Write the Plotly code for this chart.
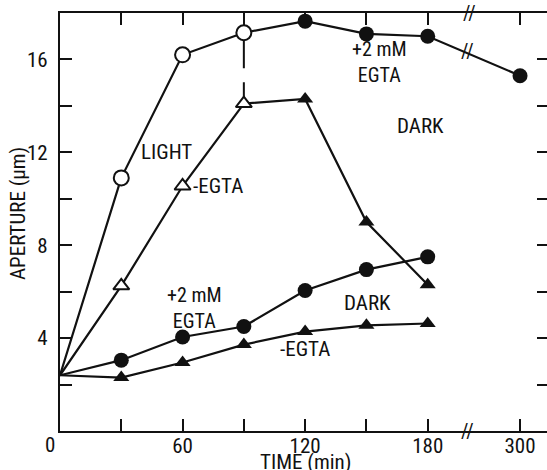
import plotly.graph_objects as go

# ---------------- data ----------------
time_light = [0, 30, 60, 90]
light_egta = [2.4, 10.9, 16.2, 17.15]           # open circles (light, +2 mM EGTA)
time_dark_after = [90, 120, 150, 180, 300]
dark_after_egta = [17.15, 17.65, 17.1, 17.0, 15.3]  # filled circles (dark after light, +EGTA)

light_noegta = [2.4, 6.25, 10.55, 14.1]         # open triangles (light, -EGTA)
time_dark_after2 = [90, 120, 150, 180]
dark_after_noegta = [14.1, 14.3, 9.0, 6.3]      # filled triangles

time_dark = [0, 30, 60, 90, 120, 150, 180]
dark_egta = [2.4, 3.05, 4.05, 4.5, 6.05, 6.95, 7.5]
dark_noegta = [2.4, 2.3, 2.95, 3.72, 4.28, 4.55, 4.63]

x_tickvals_t = [0, 30, 60, 90, 120, 150, 180, 300]
x_ticklabels = ["", "", "60", "", "120", "", "180", "300"]
y_tickvals = [2, 4, 6, 8, 10, 12, 14, 16]
y_ticklabels = ["", "4", "", "8", "", "12", "", "16"]

# break of the time axis after 180 min
BREAK_T = 180
BREAK_SCALE = 45.2 / 120.0


def tpos(t):
    return t if t <= BREAK_T else BREAK_T + (t - BREAK_T) * BREAK_SCALE


def P(ts):
    return [tpos(t) for t in ts]


FONT = "Liberation Sans Narrow, Arial Narrow, Roboto Condensed, Liberation Sans, Arial, sans-serif"
BLACK = "#111111"
LW = 2.2
MS = 14
FS = 21

fig = go.Figure()

# lines + markers
fig.add_trace(go.Scatter(x=P(time_dark_after), y=dark_after_egta, mode="lines",
                         line=dict(color=BLACK, width=LW), hoverinfo="skip"))
fig.add_trace(go.Scatter(x=P(time_dark_after[1:]), y=dark_after_egta[1:], mode="markers",
                         marker=dict(symbol="circle", size=MS + 1, color=BLACK)))
fig.add_trace(go.Scatter(x=P(time_dark_after2), y=dark_after_noegta, mode="lines",
                         line=dict(color=BLACK, width=LW)))
fig.add_trace(go.Scatter(x=P(time_dark_after2[1:]), y=dark_after_noegta[1:], mode="markers",
                         marker=dict(symbol="triangle-up", size=MS, color=BLACK)))
fig.add_trace(go.Scatter(x=P(time_dark), y=dark_egta, mode="lines",
                         line=dict(color=BLACK, width=LW)))
fig.add_trace(go.Scatter(x=P(time_dark[1:]), y=dark_egta[1:], mode="markers",
                         marker=dict(symbol="circle", size=MS + 1, color=BLACK)))
fig.add_trace(go.Scatter(x=P(time_dark), y=dark_noegta, mode="lines",
                         line=dict(color=BLACK, width=LW)))
fig.add_trace(go.Scatter(x=P(time_dark[1:]), y=dark_noegta[1:], mode="markers",
                         marker=dict(symbol="triangle-up", size=MS, color=BLACK)))
fig.add_trace(go.Scatter(x=P(time_light), y=light_noegta, mode="lines",
                         line=dict(color=BLACK, width=LW)))
fig.add_trace(go.Scatter(x=P(time_light[1:]), y=light_noegta[1:], mode="markers",
                         marker=dict(symbol="triangle-up", size=MS, color="white",
                                     line=dict(color=BLACK, width=2))))
fig.add_trace(go.Scatter(x=P(time_light), y=light_egta, mode="lines",
                         line=dict(color=BLACK, width=LW)))
fig.add_trace(go.Scatter(x=P(time_light[1:]), y=light_egta[1:], mode="markers",
                         marker=dict(symbol="circle", size=MS + 1, color="white",
                                     line=dict(color=BLACK, width=2))))

# dashed vertical line at light->dark transfer (90 min)
fig.add_trace(go.Scatter(x=P([time_light[-1], time_light[-1]]),
                         y=[light_egta[-1] - 0.32, light_noegta[-1] + 0.25], mode="lines",
                         line=dict(color=BLACK, width=2, dash="28px,14px")))

# invisible trace on the right y axis (for mirrored ticks)
fig.add_trace(go.Scatter(x=[None], y=[None], yaxis="y2", showlegend=False))

# ---------------- layout ----------------
fig.update_layout(
    width=547, height=470,
    margin=dict(l=60, r=0, t=13, b=39, autoexpand=False),
    paper_bgcolor="white", plot_bgcolor="white",
    showlegend=False,
    font=dict(family=FONT, size=FS, color=BLACK),
    xaxis=dict(range=[0, 238.4], tickmode="array", tickvals=P(x_tickvals_t),
               ticktext=x_ticklabels, ticks="inside", ticklen=12, tickwidth=2,
               tickcolor=BLACK, showline=True, linecolor=BLACK, linewidth=2.2,
               mirror="ticks", showgrid=False, zeroline=False, automargin=False,
               ticklabelstandoff=-5,
               tickfont=dict(family=FONT, size=FS, color=BLACK)),
    yaxis=dict(range=[0, 18], tickmode="array", tickvals=y_tickvals,
               ticktext=y_ticklabels, ticks="inside", ticklen=12, tickwidth=2,
               tickcolor=BLACK, showline=True, linecolor=BLACK, linewidth=2.2,
               showgrid=False, zeroline=False, ticklabelstandoff=6, automargin=False,
               tickfont=dict(family=FONT, size=FS, color=BLACK)),
    yaxis2=dict(range=[0, 18], overlaying="y", side="right", tickmode="array",
                tickvals=y_tickvals, ticks="inside", ticklen=10, tickwidth=2,
                tickcolor=BLACK, showline=False, showticklabels=False, automargin=False,
                showgrid=False, zeroline=False),
)

ann = []


def txt(x, y, s, size=FS):
    ann.append(dict(x=x, y=y, xref="x", yref="y", text=s, showarrow=False,
                    font=dict(family=FONT, size=size, color=BLACK),
                    xanchor="center", yanchor="middle"))


txt(52.3, 12.0, "LIGHT")
txt(77.5, 10.55, "-EGTA")
txt(156.6, 15.9, "+2 mM<br>EGTA", 20)
txt(176.6, 13.15, "DARK")
txt(65.6, 5.3, "+2 mM<br>EGTA", 20)
txt(150.7, 5.5, "DARK")
txt(120.0, 3.55, "-EGTA")

# axis break marks
for xb, yb in [(199.6, 0.0), (200.6, 18.0), (199.5, 16.35)]:
    ann.append(dict(x=xb, y=yb, xref="x", yref="y", text="//", showarrow=False,
                    font=dict(family=FONT, size=20, color=BLACK),
                    xanchor="center", yanchor="middle"))

# "0" label (offset left of the origin) and axis titles
ann.append(dict(x=0, y=0, xref="paper", yref="paper", text="0", showarrow=False,
                xshift=-10, yshift=-14, font=dict(family=FONT, size=FS, color=BLACK),
                xanchor="center", yanchor="middle"))
ann.append(dict(x=0.5, y=0, xref="paper", yref="paper", text="TIME (min)", showarrow=False,
                xshift=2, yshift=-31, font=dict(family=FONT, size=FS, color=BLACK),
                xanchor="center", yanchor="middle"))
ann.append(dict(x=0, y=0.5, xref="paper", yref="paper", text="APERTURE (μm)", showarrow=False,
                xshift=-42, yshift=8, textangle=-90, font=dict(family=FONT, size=FS, color=BLACK),
                xanchor="center", yanchor="middle"))
fig.update_layout(annotations=ann)

fig.write_html("out.html", config={"displayModeBar": False},
               post_script="document.body.style.margin='0';document.body.style.padding='0';"
                           "document.documentElement.style.overflow='hidden';")
